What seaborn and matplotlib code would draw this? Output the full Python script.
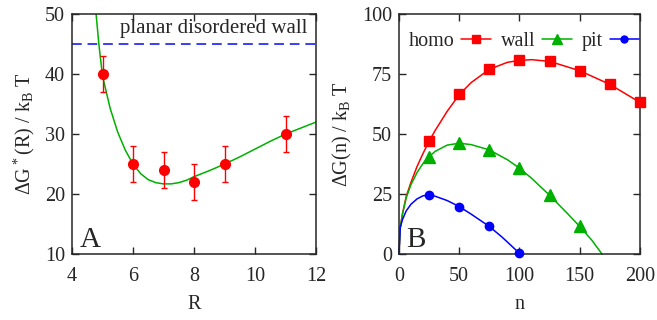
import seaborn as sns
import pandas as pd
import matplotlib.pyplot as plt
from matplotlib.lines import Line2D

# panel A: barrier vs pit radius (points with error bars + fitted curve)
R_pts = [5, 6, 7, 8, 9, 11]
dG_pts = [40, 25, 24, 22, 25, 30]
dG_err = [3, 3, 3, 3, 3, 3]

R_fit = [4.79, 4.88, 5.0, 5.25, 5.5, 5.75, 6.0, 6.25, 6.5, 6.75, 7.0, 7.25,
         7.5, 7.75, 8.0, 8.5, 9.0, 9.5, 10.0, 10.5, 11.0, 11.5, 12.0]
dG_fit = [50, 45, 39.7, 34.3, 30.3, 27.3, 25.0, 23.4, 22.4, 21.9, 21.7, 21.7,
          21.9, 22.3, 22.9, 23.9, 25.0, 26.2, 27.5, 28.8, 30.0, 31.0, 32.0]
planar_wall = 45

# panel B: free energy profiles
n_pts_homo = [25, 50, 75, 100, 125, 150, 175, 200]
homo_pts = [47, 66.5, 77, 80.7, 80.3, 76.4, 70.7, 63.2]
n_pts_wall = [25, 50, 75, 100, 125, 150]
wall_pts = [40.5, 46.2, 43.4, 35.8, 24.5, 11.5]
n_pts_pit = [25, 50, 75, 100]
pit_pts = [24.5, 19.8, 11.5, 0.3]

n_homo = [0, 1, 3, 6, 10, 15, 20, 25, 30, 40, 50, 60, 75, 90, 100, 110, 125, 150, 175, 200]
homo_fit = [0, 11, 17, 24, 30, 36.5, 42, 47, 51.5, 59.5, 66.4, 71.5, 77, 79.9, 80.7, 81.0, 80.3, 76.4, 70.7, 63.2]
n_wall = [0, 1, 3, 6, 10, 15, 20, 25, 30, 40, 50, 60, 75, 90, 100, 110, 125, 140, 150, 160, 168.5]
wall_fit = [0, 11, 17, 23.5, 29, 34, 37.8, 40.6, 42.8, 45.4, 46.2, 45.6, 43.4, 39.3, 35.8, 31.6, 24.5, 16.8, 11.5, 5.8, 0]
n_pit = [0, 1, 3, 6, 10, 15, 20, 25, 30, 40, 50, 60, 75, 85, 90, 100]
pit_fit = [0, 11, 14.5, 18, 20.8, 23, 24.3, 24.6, 24.1, 22.3, 19.8, 16.6, 11.5, 7.3, 5.0, 0.3]

sns.set_style('ticks')
plt.rcParams['font.family'] = ['Liberation Serif', 'DejaVu Serif']
plt.rcParams['mathtext.default'] = 'regular'
plt.rcParams['font.size'] = 14.5
plt.rcParams['axes.linewidth'] = 1.1
for ax_ in ['x', 'y']:
    plt.rcParams[f'{ax_}tick.direction'] = 'in'
    plt.rcParams[f'{ax_}tick.major.size'] = 5
    plt.rcParams[f'{ax_}tick.major.width'] = 1.0
plt.rcParams['xtick.major.pad'] = 9
plt.rcParams['ytick.major.pad'] = 5
plt.rcParams['xtick.top'] = True
plt.rcParams['ytick.right'] = True

RED = '#ff0000'
GREEN = '#00b000'
BLUE = '#0000ff'

fig = plt.figure(figsize=(6.57, 3.2), dpi=100)
axA = fig.add_axes([0.1096, 0.206, 0.3714, 0.750])
axB = fig.add_axes([0.6073, 0.206, 0.3668, 0.750])

# ---- panel A
sns.lineplot(x=R_fit, y=dG_fit, ax=axA, color=GREEN, lw=1.1, sort=False)
axA.axhline(planar_wall, color='#3b3bff', ls=(0, (5, 3)), lw=1.4)
axA.errorbar(R_pts, dG_pts, yerr=dG_err, fmt='o', color=RED, ms=7,
             elinewidth=1.0, capsize=2.2, capthick=1.0, zorder=5)
axA.text(0.965, 0.94, 'planar disordered wall', transform=axA.transAxes,
         ha='right', va='center', fontsize=15)
axA.text(0.03, 0.005, 'A', transform=axA.transAxes, ha='left', va='bottom',
         fontsize=21)
axA.set_xlim(4, 12)
axA.set_ylim(10, 50)
axA.set_xticks([4, 6, 8, 10, 12])
axA.set_yticks([10, 20, 30, 40, 50])
axA.set_xlabel('R', labelpad=7)
axA.set_ylabel(r'$\Delta$G$^*$(R) / k$_B$ T', labelpad=6)

# ---- panel B
df_curves = pd.concat([
    pd.DataFrame({'n': n_homo, 'dG': homo_fit, 'kind': 'homo'}),
    pd.DataFrame({'n': n_wall, 'dG': wall_fit, 'kind': 'wall'}),
    pd.DataFrame({'n': n_pit, 'dG': pit_fit, 'kind': 'pit'}),
])
sns.lineplot(data=df_curves, x='n', y='dG', hue='kind',
             palette={'homo': RED, 'wall': GREEN, 'pit': BLUE},
             ax=axB, lw=1.1, legend=False, sort=False, clip_on=False)
axB.plot(n_pts_homo, homo_pts, 's', color=RED, ms=7.5, clip_on=False, zorder=5)
axB.plot(n_pts_wall, wall_pts, '^', color=GREEN, ms=8, clip_on=False, zorder=5)
axB.plot(n_pts_pit, pit_pts, 'o', color=BLUE, ms=6, clip_on=False, zorder=5)
axB.text(0.03, 0.005, 'B', transform=axB.transAxes, ha='left', va='bottom',
         fontsize=21)
axB.set_xlim(0, 200)
axB.set_ylim(0, 100)
axB.set_xticks([0, 50, 100, 150, 200])
axB.set_yticks([0, 25, 50, 75, 100])
axB.set_xlabel('n', labelpad=7)
axB.set_ylabel(r'$\Delta$G(n) / k$_B$ T', labelpad=6)

handles = [Line2D([], [], color=RED, marker='s', ms=6, lw=1.1),
           Line2D([], [], color=GREEN, marker='^', ms=6.5, lw=1.1),
           Line2D([], [], color=BLUE, marker='o', ms=5, lw=1.1)]
axB.legend(handles, ['homo', 'wall', 'pit'], ncol=3, markerfirst=False,
           loc='upper left', bbox_to_anchor=(-0.01, 0.975), frameon=False,
           handlelength=1.45, handletextpad=0.35, columnspacing=0.5,
           borderaxespad=0.2, fontsize=14.5)

plt.savefig('out.png', dpi=100)
